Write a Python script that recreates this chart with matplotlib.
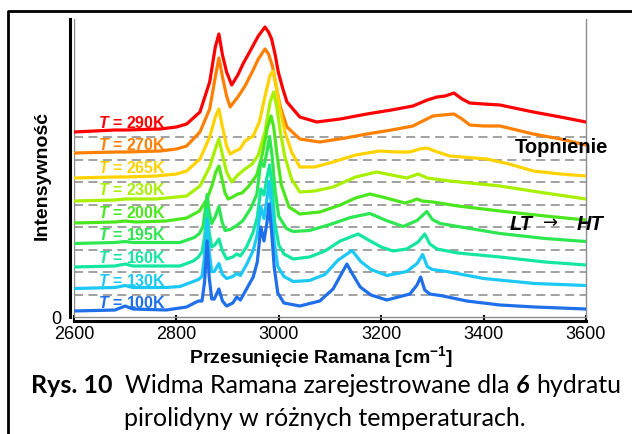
import matplotlib.pyplot as plt
from matplotlib.lines import Line2D

plt.rcParams["font.family"] = ["Liberation Sans", "DejaVu Sans"]
plt.rcParams["mathtext.fontset"] = "custom"
plt.rcParams["mathtext.rm"] = "Liberation Sans:bold"
plt.rcParams["mathtext.bf"] = "Liberation Sans:bold"
plt.rcParams["mathtext.it"] = "Liberation Sans:italic:bold"

# stacking step between spectra (same units as intensity)
step = 22.5

temps = ["100K", "130K", "160K", "195K", "200K", "230K", "265K", "270K", "290K"]
colors = ["#1f6fea", "#1cc8f5", "#14e6a0", "#2ee650", "#4ce61e",
          "#a8f000", "#ffd200", "#ff8000", "#ff0000"]

# spectra (intensity above each curve's own zero line)
wn_100 = [2600, 2680, 2700, 2715, 2780, 2820, 2835, 2843, 2850, 2855, 2860, 2864, 2869, 2874,
          2883, 2890, 2898, 2910, 2918, 2925, 2937, 2950, 2958, 2965, 2971, 2977, 2981, 2986,
          2991, 2998, 3010, 3041, 3080, 3106, 3133, 3145, 3159, 3180, 3211, 3256, 3270, 3277,
          3285, 3295, 3321, 3367, 3432, 3500, 3600]
int_100 = [6, 7, 11, 8, 7, 10, 14, 16, 16, 35, 76, 40, 18, 18,
           28, 16, 11, 14, 20, 17, 28, 40, 55, 90, 76, 95, 113, 85,
           50, 24, 14, 11, 16, 28, 53, 42, 30, 22, 17, 23, 32, 40,
           27, 23, 21, 16, 12, 10, 8]

wn_130 = [2600, 2680, 2700, 2715, 2780, 2807, 2833, 2843, 2850, 2855, 2860, 2864, 2869, 2874,
          2883, 2890, 2898, 2910, 2918, 2925, 2937, 2950, 2958, 2965, 2971, 2977, 2981, 2986,
          2991, 2998, 3010, 3028, 3060, 3090, 3115, 3143, 3160, 3180, 3211, 3250, 3270, 3281,
          3290, 3300, 3328, 3400, 3500, 3600]
int_130 = [6, 7, 9, 7, 7, 8, 13, 15, 18, 38, 75, 43, 23, 23,
           31, 20, 16, 18, 21, 19, 30, 44, 60, 88, 76, 96, 113, 88,
           53, 28, 18, 13, 14, 20, 34, 44, 33, 25, 19, 23, 31, 40,
           28, 25, 23, 16, 11, 9]

wn_160 = [2600, 2680, 2700, 2715, 2780, 2807, 2833, 2843, 2850, 2855, 2860, 2864, 2869, 2875,
          2883, 2890, 2898, 2910, 2918, 2925, 2937, 2950, 2958, 2965, 2971, 2977, 2982, 2987,
          2992, 3000, 3010, 3028, 3060, 3090, 3120, 3155, 3175, 3200, 3223, 3250, 3272, 3285,
          3295, 3309, 3350, 3432, 3520, 3600]
int_160 = [5, 6, 8, 6, 6, 6, 11, 15, 20, 35, 63, 40, 25, 27,
           33, 21, 13, 15, 18, 16, 25, 40, 55, 83, 77, 95, 107, 85,
           50, 27, 18, 13, 15, 21, 31, 38, 32, 25, 21, 23, 30, 38,
           28, 23, 19, 15, 10, 7]

wn_195 = [2600, 2680, 2700, 2715, 2780, 2807, 2835, 2845, 2852, 2856, 2860, 2864, 2869, 2876,
          2883, 2889, 2895, 2905, 2918, 2930, 2945, 2957, 2965, 2971, 2977, 2982, 2987, 2993,
          3000, 3015, 3028, 3060, 3100, 3140, 3178, 3210, 3243, 3270, 3289, 3300, 3315, 3350,
          3432, 3520, 3600]
int_195 = [6, 7, 8, 7, 7, 7, 12, 16, 23, 38, 55, 38, 26, 33,
           43, 28, 19, 20, 24, 29, 41, 55, 88, 83, 98, 113, 93, 58,
           33, 21, 18, 19, 25, 32, 36, 29, 23, 29, 38, 30, 26, 23,
           16, 11, 8]

wn_200 = [2600, 2680, 2700, 2720, 2780, 2820, 2845, 2860, 2870, 2877, 2883, 2889, 2895, 2901,
          2910, 2920, 2928, 2940, 2957, 2968, 2978, 2985, 2990, 2997, 3005, 3020, 3041, 3080,
          3120, 3150, 3178, 3210, 3246, 3260, 3270, 3280, 3301, 3350, 3432, 3520, 3600]
int_200 = [4, 5, 6, 5, 6, 9, 16, 28, 42, 55, 61, 48, 34, 28,
           30, 33, 34, 40, 52, 73, 100, 111, 100, 70, 42, 20, 13, 15,
           22, 29, 33, 29, 24, 26, 28, 26, 25, 21, 16, 11, 7]

wn_230 = [2600, 2680, 2700, 2760, 2800, 2820, 2846, 2865, 2876, 2883, 2890, 2898, 2908, 2920,
          2934, 2948, 2960, 2973, 2983, 2990, 2996, 3003, 3012, 3025, 3041, 3070, 3106, 3150,
          3191, 3220, 3250, 3272, 3290, 3334, 3432, 3520, 3600]
int_230 = [3.5, 4.5, 5.5, 5.5, 7.5, 8.5, 18.5, 37.5, 55.5, 65.5, 49.5, 32.5, 22.5, 29.5,
           35.5, 40.5, 49.5, 72.5, 102.5, 112.5, 97.5, 72.5, 47.5, 25.5, 12.5, 13.5, 17.5, 27.5,
           32.5, 29.5, 26.5, 30.5, 26.5, 23.5, 18.5, 11.5, 5.5]

wn_265 = [2600, 2680, 2700, 2760, 2800, 2820, 2846, 2865, 2876, 2883, 2890, 2898, 2905, 2915,
          2924, 2934, 2950, 2962, 2975, 2983, 2989, 2995, 3002, 3012, 3025, 3041, 3070, 3106,
          3150, 3197, 3230, 3256, 3275, 3289, 3310, 3334, 3406, 3450, 3497, 3550, 3600]
int_265 = [4, 5, 5, 6, 8, 11, 23, 45, 65, 73, 55, 36, 28, 31,
           33, 41, 46, 60, 90, 107, 111, 97, 73, 50, 30, 15, 15, 20,
           27, 31, 30, 30, 33, 34, 30, 26, 23, 18, 11, 8, 6]

wn_270 = [2600, 2680, 2700, 2768, 2800, 2820, 2846, 2865, 2876, 2883, 2890, 2898, 2905, 2920,
          2934, 2948, 2960, 2973, 2980, 2988, 2995, 3003, 3016, 3041, 3080, 3130, 3172, 3220,
          3262, 3285, 3301, 3320, 3342, 3358, 3373, 3400, 3432, 3497, 3550, 3600]
int_270 = [6.5, 7.5, 7.5, 8.5, 10.5, 13.5, 27.5, 50.5, 82.5, 101.5, 82.5, 63.5, 52.5, 62.5,
           73.5, 87.5, 100.5, 110.5, 105.5, 92.5, 72.5, 52.5, 32.5, 20.5, 17.5, 21.5, 25.5, 29.5,
           33.5, 39.5, 43.5, 44.5, 45.5, 40.5, 34.5, 33.5, 33.5, 25.5, 20.5, 14.5]

wn_290 = [2600, 2680, 2700, 2768, 2800, 2820, 2846, 2865, 2876, 2883, 2890, 2898, 2908, 2920,
          2930, 2944, 2960, 2973, 2980, 2986, 2993, 2999, 3008, 3016, 3041, 3074, 3120, 3172,
          3220, 3262, 3290, 3309, 3325, 3342, 3358, 3373, 3400, 3432, 3497, 3550, 3600]
int_290 = [5, 7, 7, 8, 10, 13, 25, 55, 90, 103, 82, 65, 52, 62,
           73, 86, 101, 110, 105, 98, 82, 65, 48, 35, 20, 15, 18, 23,
           27, 31, 37, 40, 41, 44, 38, 34, 33, 32, 25, 20, 15]

spectra = [(wn_100, int_100), (wn_130, int_130), (wn_160, int_160), (wn_195, int_195),
           (wn_200, int_200), (wn_230, int_230), (wn_265, int_265), (wn_270, int_270),
           (wn_290, int_290)]

W, H = 632, 435
fig = plt.figure(figsize=(W / 100, H / 100), dpi=100)
ax = fig.add_axes([74 / W, 1 - 318 / H, 512 / W, 298 / H])

# dashed reference lines at each spectrum's zero level
for k in range(1, len(spectra)):
    ax.axhline(k * step, color="#9a9a9a", lw=1.3, ls=(0, (5, 3)), zorder=1)

# draw hottest first so the low-temperature curves sit on top
for k in reversed(range(len(spectra))):
    wn, inten = spectra[k]
    ax.plot(wn, [v + k * step for v in inten], color=colors[k], lw=2.3,
            solid_joinstyle="round", zorder=2 + len(spectra) - k)
    ax.text(2647, k * step + 15, r"$T$ = " + temps[k], color=colors[k],
            fontsize=11.5, fontweight="bold", va="center", zorder=20)

ax.set_xlim(2600, 3600)
ax.set_ylim(0, 298)
ax.set_xticks([2600, 2800, 3000, 3200, 3400, 3600])
ax.set_yticks([0])
ax.tick_params(axis="x", direction="in", length=4, width=1.5, labelsize=13, pad=3)
ax.tick_params(axis="y", length=0, labelsize=13, pad=6)
for lab in ax.get_xticklabels() + ax.get_yticklabels():
    lab.set_fontweight("bold")

ax.spines["top"].set_visible(False)
for side in ["left", "bottom"]:
    ax.spines[side].set_position(("outward", 3))
    ax.spines[side].set_color("black")
    ax.spines[side].set_linewidth(2.2)
ax.spines["right"].set_color("#8c8c8c")
ax.spines["right"].set_linewidth(1)
ax.axvline(2600, color="#8c8c8c", lw=1)
ax.axhline(0, color="#8c8c8c", lw=1, clip_on=False)

fig.text(321 / W, 1 - 357 / H, r"Przesunięcie Ramana [cm$^{\mathrm{-1}}$]",
         ha="center", va="center", fontsize=14, fontweight="bold")
fig.text(42 / W, 1 - 176 / H, "Intensywność", rotation=90, ha="center", va="center",
         fontsize=14, fontweight="bold")
fig.text(515 / W, 1 - 148 / H, "Topnienie", ha="left", va="center",
         fontsize=14.5, fontweight="bold")
fig.text(510 / W, 1 - 225 / H, "LT", ha="left", va="center", fontsize=14.5,
         fontweight="bold", style="italic")
fig.text(551 / W, 1 - 223 / H, "→", ha="center", va="center", fontsize=13,
         family=["DejaVu Sans"])
fig.text(577 / W, 1 - 225 / H, "HT", ha="left", va="center", fontsize=14.5,
         fontweight="bold", style="italic")

# outer frame of the figure panel (cut by the image edges)
fig.add_artist(Line2D([8 / W, 8 / W, 1.0], [0, 1 - 12 / H, 1 - 12 / H],
                      transform=fig.transFigure, color="black", lw=2))

# caption, built from runs of differently styled text
renderer = fig.canvas.get_renderer()
cap = dict(fontsize=18, family=["Lato", "DejaVu Sans"], va="center")


def caption_line(y_px, runs, xc_px):
    probe1 = fig.text(0, 0, "x x", **cap)
    probe2 = fig.text(0, 0, "xx", **cap)
    gap = probe1.get_window_extent(renderer).width - probe2.get_window_extent(renderer).width
    probe1.remove()
    probe2.remove()
    items = []
    total = 0
    for s, spaces, kw in runs:
        t = fig.text(0, 1 - y_px / H, s, **cap, **kw)
        w = t.get_window_extent(renderer).width
        items.append((t, spaces, w))
        total += spaces * gap + w
    x = xc_px - total / 2
    for t, spaces, w in items:
        x += spaces * gap
        t.set_x(x / W)
        x += w


caption_line(386, [("Rys. 10", 0, dict(fontweight="bold")),
                   ("Widma Ramana zarejestrowane dla", 2, {}),
                   ("6", 1, dict(fontweight="bold", style="italic")),
                   ("hydratu", 1, {})], 326)
caption_line(419, [("pirolidyny w różnych temperaturach.", 0, {})], 325)

plt.savefig("out.png", dpi=100)
